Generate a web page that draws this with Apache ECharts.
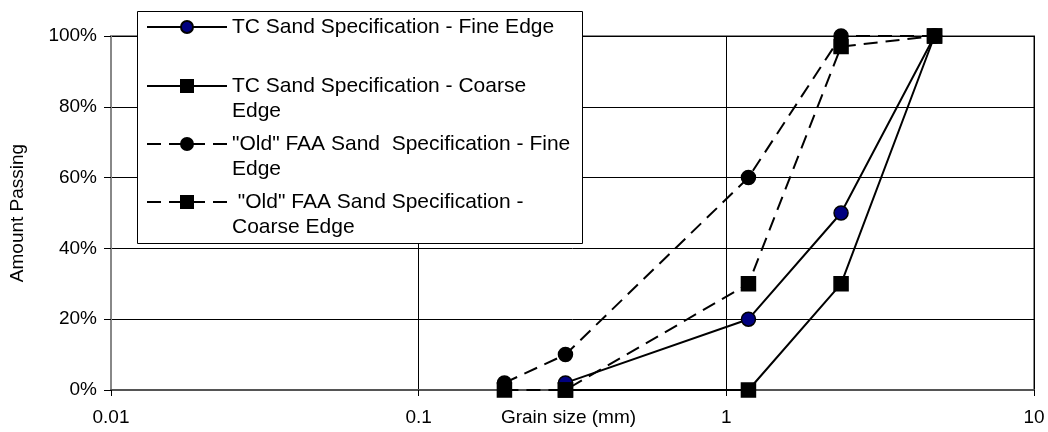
<!DOCTYPE html>
<html><head><meta charset="utf-8">
<script src="https://cdn.jsdelivr.net/npm/echarts@6/dist/echarts.min.js"></script>
<style>html,body{margin:0;padding:0;background:#fff}#c{width:1048px;height:432px}</style>
</head><body><div id="c"></div>
<script>
const seriesNames = [
  'TC Sand Specification - Fine Edge',
  'TC Sand Specification - Coarse Edge',
  '"Old" FAA Sand  Specification - Fine Edge',
  ' "Old" FAA Sand Specification - Coarse Edge'
];
const legendLabels = [
  'TC Sand Specification - Fine Edge',
  'TC Sand Specification - Coarse\nEdge',
  '"Old" FAA Sand  Specification - Fine\nEdge',
  ' "Old" FAA Sand Specification -\nCoarse Edge'
];
const tcFineX = [0.3, 1.18, 2.36, 4.75];
const tcFineY = [2, 20, 50, 100];
const tcCoarseX = [0.3, 1.18, 2.36, 4.75];
const tcCoarseY = [0, 0, 30, 100];
const oldFineX = [0.19, 0.3, 1.18, 2.36, 4.75];
const oldFineY = [2, 10, 60, 100, 100];
const oldCoarseX = [0.19, 0.3, 1.18, 2.36, 4.75];
const oldCoarseY = [0, 0, 30, 97, 100];
const xTicks = ['0.01', '0.1', '1', '10'];
const yTicks = ['0%', '20%', '40%', '60%', '80%', '100%'];

const pair = (xs, ys) => xs.map((x, i) => [x, ys[i]]);
const FONT = 'Liberation Sans, Arial, sans-serif';
const TICK_FS = 19;
const styles = [
  {symbol: 'circle', color: '#000080', type: 'solid'},
  {symbol: 'rect', color: '#000000', type: 'solid'},
  {symbol: 'circle', color: '#000000', type: [14, 8]},
  {symbol: 'rect', color: '#000000', type: [14, 8]}
];
const datas = [pair(tcFineX, tcFineY), pair(tcCoarseX, tcCoarseY), pair(oldFineX, oldFineY), pair(oldCoarseX, oldCoarseY)];
const series = seriesNames.map((n, i) => ({
  name: n, type: 'line', data: datas[i], symbol: styles[i].symbol, symbolSize: 14,
  itemStyle: {color: styles[i].color, borderColor: '#000', borderWidth: 1.5},
  lineStyle: {color: '#000', width: 2, type: styles[i].type},
  emphasis: {disabled: true}, animation: false, z: 2 + i
}));
const legendTops = [27, 86, 144, 202];
const L = 25;
const legends = seriesNames.map((n, i) => {
  const two = legendLabels[i].includes('\n');
  return {
    data: [n], left: 146, top: two ? legendTops[i] - 1.5 * L : legendTops[i] - L / 2, z: 20,
    orient: 'vertical', padding: 0, itemWidth: 80, itemHeight: 15, itemGap: 0, selectedMode: false,
    formatter: () => (two ? '\u00a0\n' : '') + legendLabels[i],
    textStyle: {fontFamily: FONT, fontSize: 21, color: '#000', lineHeight: L}
  };
});
const chart = echarts.init(document.getElementById('c'), null, {renderer: 'canvas'});
chart.setOption({
  animation: false,
  backgroundColor: '#fff',
  grid: {left: 107, right: 14, top: 36, bottom: 40, show: true, borderColor: '#888', borderWidth: 2, backgroundColor: 'transparent'},
  legend: legends,
  graphic: [{type: 'rect', left: 137, top: 11, shape: {width: 445, height: 232}, style: {fill: '#fff', stroke: '#000', lineWidth: 1}, z: 15}],
  xAxis: {
    type: 'log', logBase: 10, min: 0.01, max: 10,
    name: 'Grain size (mm)', nameLocation: 'middle', nameGap: 18, nameMoveOverlap: false,
    nameTextStyle: {fontFamily: FONT, fontSize: TICK_FS, color: '#000', padding: [0, 8, 0, 0]},
    axisLine: {show: true, lineStyle: {color: '#555', width: 2}},
    axisTick: {show: true, length: 6, lineStyle: {color: '#000', width: 1}},
    axisLabel: {fontFamily: FONT, fontSize: TICK_FS, color: '#000', margin: 18, formatter: v => xTicks[Math.round(Math.log10(v)) + 2]},
    splitLine: {show: true, lineStyle: {color: '#000', width: 1}},
    minorTick: {show: false}, minorSplitLine: {show: false}
  },
  yAxis: {
    type: 'value', min: 0, max: 100, interval: 20,
    name: 'Amount Passing', nameLocation: 'middle', nameGap: 84, nameRotate: 90, nameMoveOverlap: false,
    nameTextStyle: {fontFamily: FONT, fontSize: TICK_FS, color: '#000'},
    axisLine: {show: true, lineStyle: {color: '#888', width: 2}},
    axisTick: {show: true, length: 7, lineStyle: {color: '#000', width: 1}},
    axisLabel: {fontFamily: FONT, fontSize: TICK_FS, color: '#000', margin: 14, formatter: v => yTicks[Math.round(v / 20)]},
    splitLine: {show: true, lineStyle: {color: '#000', width: 1}}
  },
  series: series
});
</script></body></html>
